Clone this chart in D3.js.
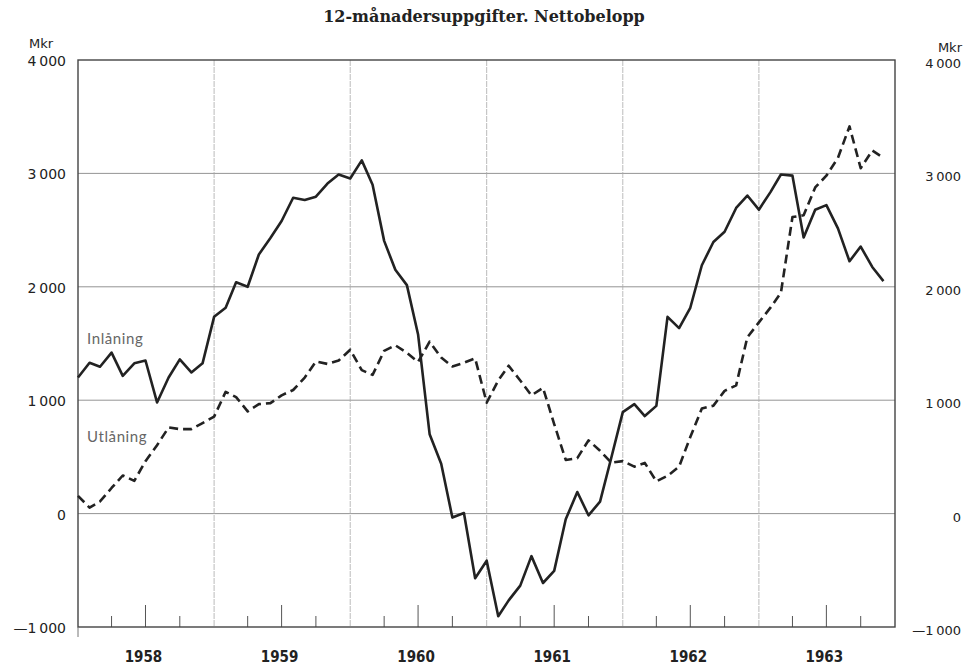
<!DOCTYPE html>
<html>
<head>
<meta charset="utf-8">
<script src="https://cdn.jsdelivr.net/npm/d3@7"></script>
<style>
    body { margin: 0; background: #fff; }
    svg { display: block; }
</style>
</head>
<body>
<div id="visualization"></div>
<script>
// 12-month figures, Mkr, one value per month Jan 1958 .. Dec 1963
const startYear = 1958;
const endYear = 1964;
const yearLabels = ['1958', '1959', '1960', '1961', '1962', '1963'];
const yTicks = [-1000, 0, 1000, 2000, 3000, 4000];

const inlaning = [
    1200, 1330, 1295, 1420, 1215, 1325, 1350, 980, 1200, 1360, 1245, 1325,
    1735, 1815, 2040, 2000, 2285, 2430, 2580, 2785, 2765, 2795, 2910, 2990,
    2955, 3115, 2900, 2405, 2150, 2015, 1580, 700, 440, -35, 5, -570,
    -415, -905, -765, -635, -375, -612, -505, -50, 190, -15, 105, 490,
    895, 965, 860, 950, 1735, 1635, 1815, 2190, 2395, 2485, 2695, 2805,
    2680, 2835, 2990, 2980, 2435, 2680, 2720, 2515, 2225, 2355, 2175, 2050
];
const utlaning = [
    157, 53, 107, 226, 336, 289, 462, 603, 760, 745, 745, 798,
    855, 1074, 1027, 902, 965, 974, 1043, 1090, 1200, 1341, 1320, 1350,
    1445, 1265, 1223, 1435, 1484, 1418, 1337, 1516, 1376, 1298, 1330, 1369,
    978, 1174, 1304, 1174, 1043, 1109, 790, 473, 489, 646, 554, 450,
    463, 414, 447, 284, 333, 414, 675, 926, 952, 1082, 1131, 1555,
    1686, 1816, 1947, 2615, 2631, 2876, 2980, 3137, 3414, 3046, 3202, 3137
];
const seriesLabels = ['Inlåning', 'Utlåning'];
const title = '12-månadersuppgifter. Nettobelopp';

const config = {
    width: 974,
    height: 667,
    left: 78,
    right: 895,
    top: 60,
    bottom: 627
};

const months = d3.timeMonth.range(new Date(startYear, 0, 1), new Date(endYear, 0, 1));

const makeChart = () => {
    const svg = d3.select('#visualization').append('svg')
        .attr('width', config.width)
        .attr('height', config.height);

    const x = d3.scaleTime()
        .domain([new Date(startYear, 0, 1), new Date(endYear, 0, 1)])
        .range([config.left, config.right]);
    const y = d3.scaleLinear()
        .domain([-1000, 4000])
        .range([config.bottom, config.top]);

    // title
    svg.append('text')
        .attr('x', 484)
        .attr('y', 22)
        .attr('text-anchor', 'middle')
        .attr('font-family', '"DejaVu Serif", serif')
        .attr('font-weight', 'bold')
        .attr('font-size', 16)
        .attr('fill', '#222')
        .text(title);

    // horizontal grid
    svg.append('g').selectAll('line')
            .data(yTicks.filter(d => d > -1000 && d < 4000))
        .enter().append('line')
            .attr('x1', config.left).attr('x2', config.right)
            .attr('y1', d => y(d)).attr('y2', d => y(d))
            .attr('stroke', '#888')
            .attr('stroke-width', 0.9);

    // vertical grid at year boundaries
    const yearStarts = d3.range(startYear + 1, endYear).map(yr => new Date(yr, 0, 1));
    svg.append('g').selectAll('line')
            .data(yearStarts)
        .enter().append('line')
            .attr('x1', d => x(d)).attr('x2', d => x(d))
            .attr('y1', config.top).attr('y2', config.bottom)
            .attr('stroke', '#aaa')
            .attr('stroke-width', 0.8)
            .attr('stroke-dasharray', '6,1');

    // quarter ticks on the bottom
    const quarters = d3.timeMonth.every(3).range(new Date(startYear, 0, 1), new Date(endYear, 0, 1))
        .filter(d => d.getMonth() !== 0);
    svg.append('g').selectAll('line')
            .data(quarters)
        .enter().append('line')
            .attr('x1', d => x(d)).attr('x2', d => x(d))
            .attr('y1', d => config.bottom - (d.getMonth() === 6 ? 22 : 11))
            .attr('y2', config.bottom)
            .attr('stroke', '#555')
            .attr('stroke-width', 1);

    // frame
    svg.append('rect')
        .attr('x', config.left)
        .attr('y', config.top)
        .attr('width', config.right - config.left)
        .attr('height', config.bottom - config.top)
        .attr('fill', 'none')
        .attr('stroke', '#444')
        .attr('stroke-width', 1.4);
    svg.append('line')
        .attr('x1', config.left).attr('x2', config.left)
        .attr('y1', config.bottom).attr('y2', config.bottom + 10)
        .attr('stroke', '#777').attr('stroke-width', 1);

    // y labels, both sides
    const fmt = d => (d < 0 ? '\u2014' : '') + d3.format(',')(Math.abs(d)).replace(/,/g, '\u2009');
    const labelFont = '"DejaVu Sans", sans-serif';
    svg.append('g').selectAll('text')
            .data(yTicks)
        .enter().append('text')
            .attr('x', 66)
            .attr('y', d => y(d) + 6)
            .attr('text-anchor', 'end')
            .attr('font-family', labelFont)
            .attr('font-size', 14)
            .attr('fill', '#222')
            .text(fmt);
    svg.append('g').selectAll('text')
            .data(yTicks)
        .enter().append('text')
            .attr('x', 961)
            .attr('y', d => y(d) + 8)
            .attr('text-anchor', 'end')
            .attr('font-family', labelFont)
            .attr('font-size', 13)
            .attr('fill', '#222')
            .text(fmt);

    svg.append('text')
        .attr('x', 41).attr('y', 48)
        .attr('text-anchor', 'middle')
        .attr('font-family', labelFont)
        .attr('font-size', 13)
        .attr('fill', '#222')
        .text('Mkr');
    svg.append('text')
        .attr('x', 962).attr('y', 52)
        .attr('text-anchor', 'end')
        .attr('font-family', labelFont)
        .attr('font-size', 13)
        .attr('fill', '#222')
        .text('Mkr');

    // year labels at mid-year
    svg.append('g').selectAll('text')
            .data(yearLabels)
        .enter().append('text')
            .attr('x', d => x(new Date(+d, 6, 1)) - 2)
            .attr('y', 662)
            .attr('text-anchor', 'middle')
            .attr('font-family', '"DejaVu Sans Condensed", sans-serif')
            .attr('font-weight', 'bold')
            .attr('font-size', 15)
            .attr('fill', '#222')
            .text(d => d);

    // series
    const line = d3.line()
        .x((d, i) => x(months[i]))
        .y(d => y(d));

    svg.append('path')
        .datum(utlaning)
        .attr('d', line)
        .attr('fill', 'none')
        .attr('stroke', '#222')
        .attr('stroke-width', 2.6)
        .attr('stroke-dasharray', '9,5')
        .attr('stroke-linejoin', 'round');

    svg.append('path')
        .datum(inlaning)
        .attr('d', line)
        .attr('fill', 'none')
        .attr('stroke', '#222')
        .attr('stroke-width', 2.6)
        .attr('stroke-linejoin', 'round');

    // series labels
    svg.append('g').selectAll('text')
            .data([[seriesLabels[0], 1500], [seriesLabels[1], 630]])
        .enter().append('text')
            .attr('x', 87)
            .attr('y', d => y(d[1]))
            .attr('font-family', 'Lato, sans-serif')
            .attr('font-size', 15)
            .attr('letter-spacing', 0.6)
            .attr('fill', '#666')
            .text(d => d[0]);
};

const main = () => {
    makeChart();
};

main();
</script>
</body>
</html>
